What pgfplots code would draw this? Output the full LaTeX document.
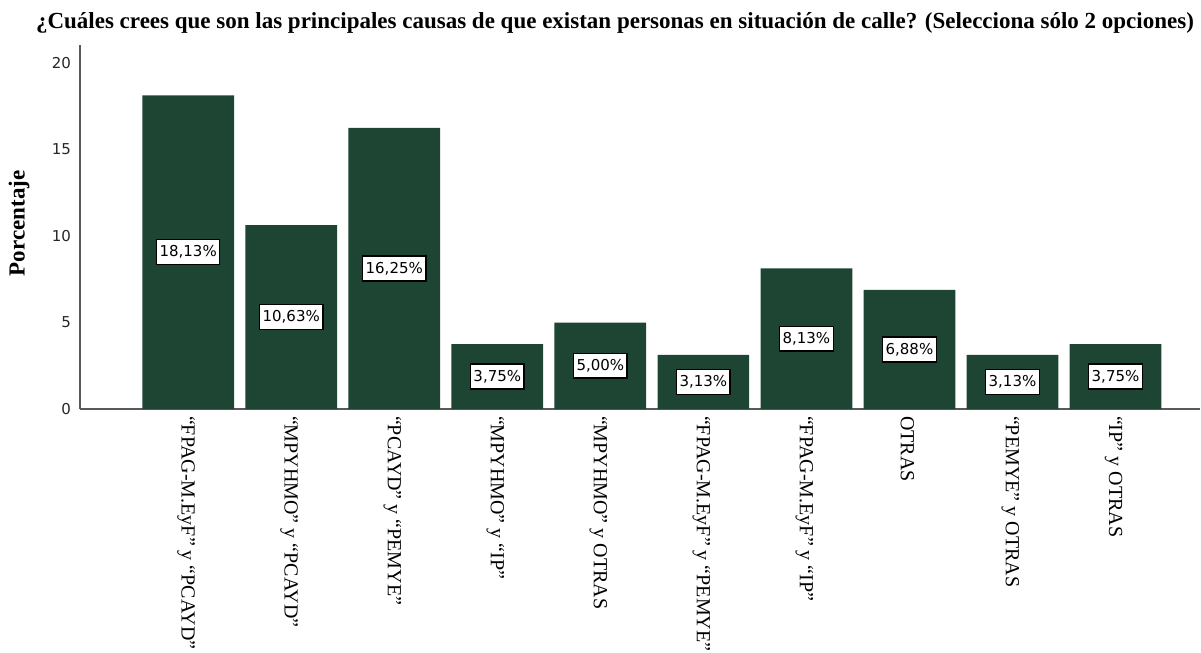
\documentclass[border=0pt]{standalone}
\usepackage{pgfplots}
\pgfplotsset{compat=1.18}
\usepackage{pgfplotstable}
\usepackage{fontspec}
\setmainfont{Liberation Serif}
\newfontfamily\dv{DejaVu Sans}
\definecolor{barg}{RGB}{30,69,52}

\pgfplotstableread{
x y
0 18.13
1 10.63
2 16.25
3 3.75
4 5.00
5 3.13
6 8.13
7 6.88
8 3.13
9 3.75
}\datatable

\begin{document}
\begin{tikzpicture}
\path[use as bounding box] (-40pt,-122pt) rectangle (560.5pt,204.5pt);
\begin{axis}[
  scale only axis, width=560pt, height=182pt,
  xmin=-1.05, xmax=9.82, ymin=0, ymax=21.04,
  axis lines*=left,
  axis line style={black!65, line width=0.6pt},
  /pgf/number format/assume math mode=true,
  ytick={0,5,10,15,20},
  xtick={0,...,9},
  xticklabels={{“FPAG-M.EyF” y “PCAYD”},{“MPYHMO” y “PCAYD”},{“PCAYD” y “PEMYE”},{“MPYHMO” y “IP”},{“MPYHMO” y OTRAS},{“FPAG-M.EyF” y “PEMYE”},{“FPAG-M.EyF” y “IP”},{OTRAS},{“PEMYE” y OTRAS},{“IP” y OTRAS}},
  major tick length=0pt,
  yticklabel style={font=\dv\fontsize{7.5}{9}\selectfont, text=black!85, xshift=-1pt},
  xticklabel style={font=\fontsize{10}{12}\selectfont, rotate=-90, anchor=west, yshift=-1pt},
  ylabel={Porcentaje},
  ylabel style={font=\bfseries\fontsize{11.5}{13}\selectfont, at={(rel axis cs:0,0.51)}, anchor=center, yshift=30.5pt},
  title={¿Cuáles crees que son las principales causas de que existan personas en situación de calle? (Selecciona sólo 2 opciones)},
  title style={font=\bfseries\fontsize{11.5}{13}\selectfont, at={(rel axis cs:0.5,1)}, anchor=base, xshift=-12.5pt, yshift=2.5pt},
  clip=false,
]
\addplot[ybar, bar width=0.89, fill=barg, draw=none] table[x=x, y=y] {\datatable};
\addplot[draw=none, mark=none, forget plot, point meta=explicit,
  nodes near coords={\pgfmathprintnumber[fixed, fixed zerofill, precision=2, use comma]{\pgfplotspointmeta}\%},
  nodes near coords align=center,
  every node near coord/.style={anchor=center, font=\dv\fontsize{7.5}{9}\selectfont, fill=white, draw=black, line width=0.7pt, inner xsep=1.5pt, inner ysep=3pt, text=black}
] table[x=x, y expr=\thisrow{y}/2, meta=y] {\datatable};
\end{axis}
\end{tikzpicture}
\end{document}
